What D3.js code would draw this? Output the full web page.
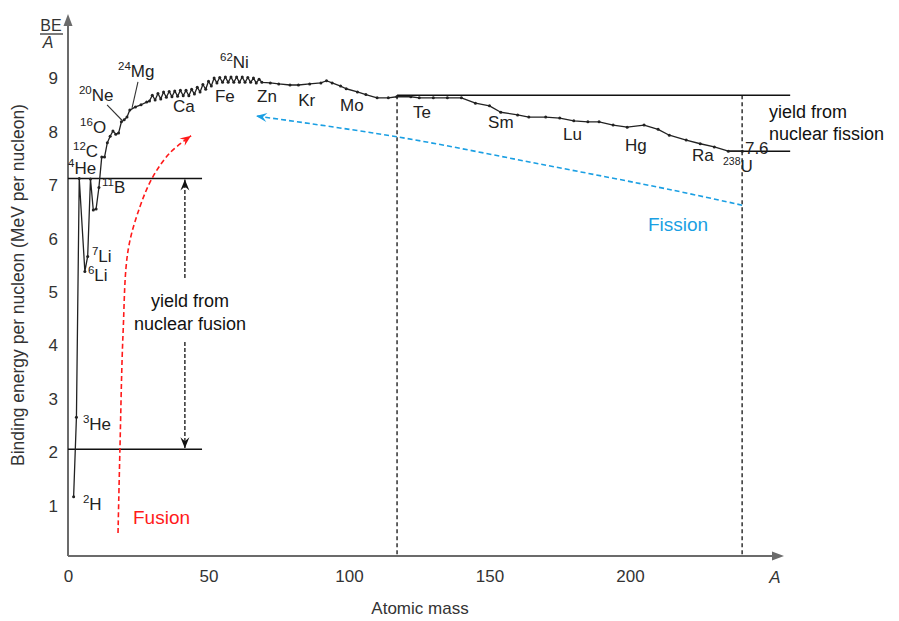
<!DOCTYPE html>
<html>
<head>
<meta charset="utf-8">
<script src="https://cdn.jsdelivr.net/npm/d3@7"></script>
<style>
  body { margin: 0; background: #fff; }
  svg text { font-family: "Liberation Sans", Arial, Helvetica, sans-serif; }
</style>
</head>
<body>
<svg id="chart" width="899" height="621"></svg>
<script>
// mass number A and binding energy per nucleon (MeV)
const massNumber = [2, 3, 4, 6, 7, 8, 9, 10, 11, 12, 13, 14, 15, 16, 17, 18, 19, 20, 21, 22, 24, 26, 28,
  29, 30, 31, 32, 33, 34, 35, 36, 37, 38, 39, 40, 41, 42, 43, 44, 45, 46, 47, 48, 49,
  50, 51, 52, 53, 54, 55, 56, 57, 58, 59, 60, 61, 62, 63, 64, 65, 66, 67, 68, 69,
  72, 75, 79, 82, 86, 90, 92, 94, 97, 99, 103, 106, 110, 114, 117, 122, 125, 130, 135, 140,
  145, 150, 154, 160, 164, 170, 175, 180, 185, 189, 194, 199, 205, 210, 214, 220, 225, 230, 235, 240]
const bindingEnergy = [1.11, 2.6, 7.07, 5.33, 5.61, 7.06, 6.48, 6.5, 6.9, 7.47, 7.47, 7.74, 7.86, 7.96, 7.9, 7.92, 8.13, 8.17, 8.22, 8.35, 8.41, 8.45, 8.5,
  8.52, 8.63, 8.54, 8.66, 8.56, 8.69, 8.59, 8.7, 8.6, 8.71, 8.61, 8.72, 8.62, 8.72, 8.62, 8.74, 8.65, 8.78, 8.69, 8.83, 8.74,
  8.89, 8.8, 8.95, 8.86, 8.96, 8.87, 8.97, 8.87, 8.97, 8.87, 8.97, 8.87, 8.97, 8.87, 8.96, 8.87, 8.95, 8.86, 8.93, 8.87,
  8.86, 8.84, 8.82, 8.82, 8.84, 8.86, 8.9, 8.86, 8.8, 8.75, 8.69, 8.64, 8.58, 8.58, 8.6, 8.6, 8.58, 8.58, 8.58, 8.58,
  8.48, 8.43, 8.31, 8.26, 8.22, 8.22, 8.2, 8.15, 8.13, 8.13, 8.07, 8.03, 8.07, 7.99, 7.88, 7.79, 7.72, 7.66, 7.58, 7.58]

const xTicks = [0, 50, 100, 150, 200]
const yTicks = [1, 2, 3, 4, 5, 6, 7, 8, 9]

// nuclide labels: superscript, symbol, and where the label sits (A, BE)
const nuclideLabels = [
  ["62", "Ni", 54.1, 9.14], ["24", "Mg", 17.8, 8.97], ["20", "Ne", 3.9, 8.52],
  ["16", "O", 4.3, 7.92], ["12", "C", 1.8, 7.47], ["4", "He", 0, 7.15],
  ["11", "B", 12.1, 6.8], ["7", "Li", 8.5, 5.51], ["6", "Li", 7.1, 5.15],
  ["3", "He", 5.3, 2.36], ["2", "H", 5.3, 0.86], ["238", "U", 233.1, 7.2],
  ["", "Ca", 37.4, 8.31], ["", "Fe", 52.3, 8.5], ["", "Zn", 67.3, 8.5],
  ["", "Kr", 81.9, 8.43], ["", "Mo", 96.8, 8.33], ["", "Te", 122.8, 8.2],
  ["", "Sm", 149.5, 8.01], ["", "Lu", 176.2, 7.79], ["", "Hg", 198.2, 7.58],
  ["", "Ra", 222.1, 7.4], ["", "7.6", 240.9, 7.53]
]
// leader lines for Ne and Mg: [A1, BE1, A2, BE2]
const leaders = [[24.9, 8.88, 22.8, 8.39], [13.9, 8.45, 19.2, 8.16]]

// yield levels
const fusionLow = 2.0, fusionHigh = 7.07, fusionEndA = 47.7
const fissionHigh = 8.63, fissionLow = 7.58
const fissionStartA = 117.1, uraniumA = 239.9, levelEndA = 257

// arrow paths in (A, BE)
const fusionArrow = [[17.8, 0.43], [18.5, 2.04], [19.6, 4.18], [21.4, 5.73], [25.6, 6.54], [30.2, 7.1], [36.3, 7.55], [43.8, 7.87]]
const fissionArrow = [[239.9, 6.57], [215.3, 6.85], [168, 7.34], [117.1, 7.85], [66.9, 8.24]]

const svg = d3.select("#chart")
const x = d3.scaleLinear().domain([0, 250]).range([68, 770.5])
const y = d3.scaleLinear().domain([0, 9]).range([556, 75.4])
const axisColor = "#6b6b6b"

// arrowheads
const defs = svg.append("defs")
function marker(id, color) {
  defs.append("marker")
    .attr("id", id)
    .attr("viewBox", "-12 -6 14 12")
    .attr("refX", 0).attr("refY", 0)
    .attr("markerWidth", 14).attr("markerHeight", 12)
    .attr("markerUnits", "userSpaceOnUse")
    .attr("orient", "auto-start-reverse")
    .append("path")
    .attr("d", "M0,0 L-11,-4.5 L-7,0 L-11,4.5 Z")
    .attr("fill", color)
}
marker("arrRed", "#ff1a1a")
marker("arrBlue", "#1a9fe3")
marker("arrBlack", "#111")

// axes
const xAxis = svg.append("g")
  .attr("transform", `translate(0,${y(0)})`)
  .call(d3.axisBottom(x).tickValues(xTicks).tickSize(0).tickPadding(14))
xAxis.select(".domain").remove()
xAxis.selectAll("text").attr("font-size", 17).attr("fill", "#333")
  .style("font-family", '"Liberation Sans", Arial, sans-serif')

const yAxis = svg.append("g")
  .attr("transform", `translate(${x(0)},0)`)
  .call(d3.axisLeft(y).tickValues(yTicks).tickSize(0).tickPadding(10))
yAxis.select(".domain").remove()
yAxis.selectAll("text").attr("font-size", 17).attr("fill", "#333").attr("dy", "0.5em")
  .style("font-family", '"Liberation Sans", Arial, sans-serif')

svg.append("line")
  .attr("x1", x(0)).attr("y1", y(0)).attr("x2", 774).attr("y2", y(0))
  .attr("stroke", axisColor).attr("stroke-width", 2)
svg.append("path").attr("d", `M784,${y(0)} L772,${y(0) - 4.5} L772,${y(0) + 4.5} Z`).attr("fill", axisColor)
svg.append("line")
  .attr("x1", x(0)).attr("y1", y(0)).attr("x2", x(0)).attr("y2", 24)
  .attr("stroke", axisColor).attr("stroke-width", 2)
svg.append("path").attr("d", `M${x(0)},14 L${x(0) - 4.5},26 L${x(0) + 4.5},26 Z`).attr("fill", axisColor)

svg.append("text").attr("x", 775).attr("y", 583)
  .attr("font-size", 17).attr("font-style", "italic").attr("fill", "#333").attr("text-anchor", "middle").text("A")
svg.append("text").attr("x", 420).attr("y", 614)
  .attr("font-size", 17).attr("fill", "#333").attr("text-anchor", "middle").text("Atomic mass")
svg.append("text")
  .attr("transform", "translate(24,285) rotate(-90)")
  .attr("font-size", 17.5).attr("fill", "#333").attr("text-anchor", "middle")
  .text("Binding energy per nucleon (MeV per nucleon)")

// BE / A
svg.append("text").attr("x", 51).attr("y", 31).attr("font-size", 16).attr("fill", "#333")
  .attr("text-anchor", "middle").text("BE")
svg.append("line").attr("x1", 40).attr("x2", 63).attr("y1", 34).attr("y2", 34)
  .attr("stroke", "#333").attr("stroke-width", 1.3)
svg.append("text").attr("x", 48).attr("y", 48).attr("font-size", 16).attr("font-style", "italic")
  .attr("fill", "#333").attr("text-anchor", "middle").text("A")

// yield level lines
const levels = [
  [0, fusionHigh, fusionEndA, fusionHigh],
  [0, fusionLow, fusionEndA, fusionLow],
  [fissionStartA, fissionHigh, levelEndA, fissionHigh],
  [234.5, fissionLow, levelEndA, fissionLow]
]
svg.selectAll(".level").data(levels).enter().append("line")
  .attr("class", "level")
  .attr("x1", d => x(d[0])).attr("y1", d => y(d[1]))
  .attr("x2", d => x(d[2])).attr("y2", d => y(d[3]))
  .attr("stroke", "#111").attr("stroke-width", 1.5)

// dashed verticals
svg.selectAll(".vdash").data([fissionStartA, uraniumA]).enter().append("line")
  .attr("class", "vdash")
  .attr("x1", d => x(d)).attr("x2", d => x(d))
  .attr("y1", y(fissionHigh)).attr("y2", y(0))
  .attr("stroke", "#111").attr("stroke-width", 1.3).attr("stroke-dasharray", "4,3")

// binding energy curve
const pts = massNumber.map((a, i) => [a, bindingEnergy[i]])
svg.append("path")
  .datum(pts)
  .attr("fill", "none").attr("stroke", "#222").attr("stroke-width", 1.3)
  .attr("stroke-linejoin", "round")
  .attr("d", d3.line().x(d => x(d[0])).y(d => y(d[1])))
svg.selectAll(".dot").data(pts).enter().append("circle")
  .attr("class", "dot")
  .attr("cx", d => x(d[0])).attr("cy", d => y(d[1])).attr("r", 1.5)
  .attr("fill", "#222")

// leaders
svg.selectAll(".leader").data(leaders).enter().append("line")
  .attr("class", "leader")
  .attr("x1", d => x(d[0])).attr("y1", d => y(d[1]))
  .attr("x2", d => x(d[2])).attr("y2", d => y(d[3]))
  .attr("stroke", "#333").attr("stroke-width", 1.1)

// nuclide labels
const lab = svg.selectAll(".nlab").data(nuclideLabels).enter().append("text")
  .attr("class", "nlab")
  .attr("x", d => x(d[2])).attr("y", d => y(d[3]))
  .attr("fill", "#222").attr("font-size", 17)
lab.append("tspan").attr("font-size", d => d[0] === "238" ? 10.5 : 11.5).attr("dy", -7).text(d => d[0])
lab.append("tspan").attr("dy", d => d[0] ? 7 : 0).text(d => d[1])

// fusion arrow (red) and fission arrow (blue)
const curve = d3.line().x(d => x(d[0])).y(d => y(d[1])).curve(d3.curveCatmullRom)
svg.append("path").datum(fusionArrow).attr("d", curve)
  .attr("fill", "none").attr("stroke", "#ff1a1a").attr("stroke-width", 1.6)
  .attr("stroke-dasharray", "5,3").attr("marker-end", "url(#arrRed)")
svg.append("path").datum(fissionArrow).attr("d", curve)
  .attr("fill", "none").attr("stroke", "#1a9fe3").attr("stroke-width", 1.6)
  .attr("stroke-dasharray", "5,3").attr("marker-end", "url(#arrBlue)")

svg.append("text").attr("x", 133).attr("y", 524).attr("font-size", 19).attr("fill", "#ff1a1a").text("Fusion")
svg.append("text").attr("x", 648).attr("y", 231).attr("font-size", 19).attr("fill", "#1a9fe3").text("Fission")

// fusion yield double arrow, broken around its caption
const yieldA = 41.6
svg.append("line")
  .attr("x1", x(yieldA)).attr("x2", x(yieldA)).attr("y1", 278).attr("y2", y(fusionHigh) + 1)
  .attr("stroke", "#111").attr("stroke-width", 1.3).attr("stroke-dasharray", "4,2")
  .attr("marker-end", "url(#arrBlack)")
svg.append("line")
  .attr("x1", x(yieldA)).attr("x2", x(yieldA)).attr("y1", 342).attr("y2", y(fusionLow) - 1)
  .attr("stroke", "#111").attr("stroke-width", 1.3).attr("stroke-dasharray", "4,2")
  .attr("marker-end", "url(#arrBlack)")

svg.append("text").attr("x", 190).attr("y", 307).attr("font-size", 18).attr("fill", "#111")
  .attr("text-anchor", "middle").text("yield from")
svg.append("text").attr("x", 190).attr("y", 330).attr("font-size", 18).attr("fill", "#111")
  .attr("text-anchor", "middle").text("nuclear fusion")
svg.append("text").attr("x", 769).attr("y", 118).attr("font-size", 18).attr("fill", "#111").text("yield from")
svg.append("text").attr("x", 769).attr("y", 140).attr("font-size", 18).attr("fill", "#111").text("nuclear fission")
</script>
</body>
</html>
